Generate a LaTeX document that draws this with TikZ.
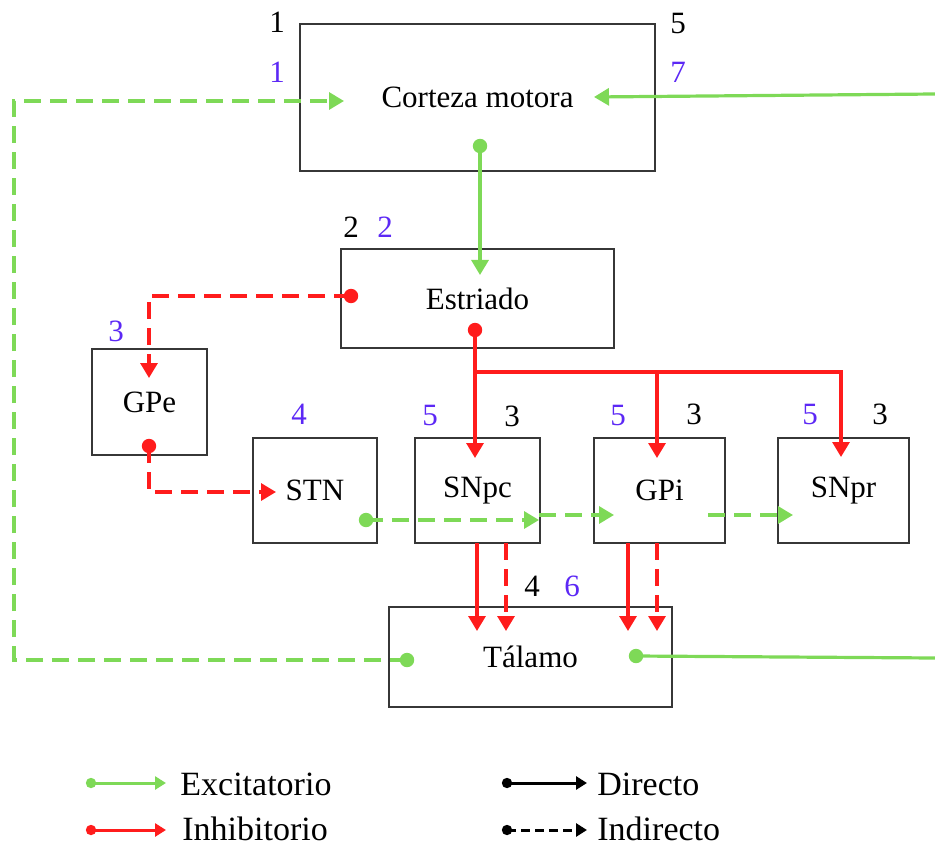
\documentclass[tikz,border=0pt]{standalone}
\usepackage{fontspec}
\setmainfont{Liberation Serif}
\usetikzlibrary{arrows.meta}
\definecolor{exc}{RGB}{126,217,87}
\definecolor{inh}{RGB}{255,28,28}
\definecolor{num}{RGB}{92,40,245}
\definecolor{boxc}{RGB}{55,55,55}
\begin{document}
\begin{tikzpicture}[x=0.5pt,y=-0.5pt,
  box/.style={draw=boxc, line width=0.75pt, inner sep=0pt, align=center,
    font=\fontsize{15.5}{18}\selectfont},
  numk/.style={inner sep=0pt, font=\fontsize{15.5}{18}\selectfont, text=black},
  nump/.style={inner sep=0pt, font=\fontsize{15.5}{18}\selectfont, text=num},
  conn/.style={line width=1.6pt},
  dsh/.style={dash pattern=on 8.5pt off 4.5pt},
  onlytip/.style={arrows={-Triangle[length=7.5pt,width=8.5pt]}},
  legline/.style={line width=1.5pt, arrows={-Triangle[length=5.5pt,width=6.5pt]}},
  legtext/.style={anchor=base west, inner sep=0pt, text depth=0pt, font=\fontsize{17}{20}\selectfont}
]
\useasboundingbox (0,0) rectangle (935,844);

% boxes
\node[box, minimum width=177.5pt, minimum height=73.5pt] (cortex) at (477.5,97.5) {Corteza motora};
\node[box, minimum width=136.5pt, minimum height=49.5pt] (estr) at (477.5,298.5) {Estriado};
\node[box, minimum width=57.5pt, minimum height=53pt] (gpe) at (149.5,402) {GPe};
\node[box, minimum width=62pt, minimum height=52.5pt] (stn) at (315,490.5) {STN};
\node[box, minimum width=62.5pt, minimum height=52.5pt] (snpc) at (477.5,490.5) {SNpc};
\node[box, minimum width=65.5pt, minimum height=52.5pt] (gpi) at (659.5,490.5) {GPi};
\node[box, minimum width=65.5pt, minimum height=52.5pt] (snpr) at (843.5,490.5) {SNpr};
\node[box, minimum width=141.5pt, minimum height=50pt] (tal) at (530.5,657) {Tálamo};

% numbers
\node[numk] (n1k) at (277,22) {1};
\node[nump] (n1p) at (277,72) {1};
\node[numk] (n5k) at (678,24) {5};
\node[nump] (n7p) at (678,72) {7};
\node[numk] (n2k) at (351,227) {2};
\node[nump] (n2p) at (385,227) {2};
\node[nump] (n3p) at (116,331) {3};
\node[nump] (n4p) at (299,414) {4};
\node[nump] (nsnpcp) at (430,415) {5};
\node[numk] (nsnpck) at (512,416) {3};
\node[nump] (ngpip) at (618,415) {5};
\node[numk] (ngpik) at (694,414) {3};
\node[nump] (nsnprp) at (810,414) {5};
\node[numk] (nsnprk) at (880,414) {3};
\node[numk] (ntalk) at (532,586) {4};
\node[nump] (ntalp) at (572,586) {6};

% connector points
\coordinate (cxo) at (480,146);
\coordinate (esi) at (480,275);
\coordinate (rin) at (935,94);
\coordinate (cxi) at (594,97);
\coordinate (tao) at (636,656);
\coordinate (rout) at (935,658);
\coordinate (tal2) at (407,660);
\coordinate (cxl) at (344,101);
\coordinate (eso1) at (351,296);
\coordinate (gpei) at (149,378);
\coordinate (gpeo) at (149,446);
\coordinate (stni) at (276,492);
\coordinate (eso2) at (475,330);
\coordinate (snpci) at (475,458);
\coordinate (jn) at (475,372);
\coordinate (gpii) at (657,458);
\coordinate (snpri) at (841,457);
\coordinate (stno) at (366,520);
\coordinate (snpcm) at (539,520);
\coordinate (snpco) at (539,515);
\coordinate (gpim) at (614,515);
\coordinate (gpio) at (708,515);
\coordinate (snprm) at (793,515);
\coordinate (a1) at (477,543); \coordinate (a1t) at (477,631);
\coordinate (a2) at (506,543); \coordinate (a2t) at (506,631);
\coordinate (a3) at (628,543); \coordinate (a3t) at (628,631);
\coordinate (a4) at (657,543); \coordinate (a4t) at (657,631);

% excitatory
\draw[conn, exc, onlytip] (cxo) -- (esi);
\draw[conn, exc, onlytip] (rin) -- (cxi);
\draw[conn, exc] (tao) -- (rout);
\draw[conn, exc, dsh, onlytip] (tal2) -- ++(-393,0) |- (cxl);
\draw[conn, exc, dsh, onlytip] (stno) -- (snpcm);
\draw[conn, exc, dsh, onlytip] (snpco) -- (gpim);
\draw[conn, exc, dsh, onlytip] (gpio) -- (snprm);
\foreach \p in {cxo,tao,tal2,stno} \fill[exc] (\p) circle (3.6pt);

% inhibitory
\draw[conn, inh, dsh, onlytip] (eso1) -| (gpei);
\draw[conn, inh, dsh, onlytip] (gpeo) |- (stni);
\draw[conn, inh, onlytip] (eso2) -- (snpci);
\draw[conn, inh, onlytip] (jn) -| (gpii);
\draw[conn, inh, onlytip] (jn) -| (snpri);
\draw[conn, inh, onlytip] (a1) -- (a1t);
\draw[conn, inh, dsh, onlytip] (a2) -- (a2t);
\draw[conn, inh, onlytip] (a3) -- (a3t);
\draw[conn, inh, dsh, onlytip] (a4) -- (a4t);
\foreach \p in {eso1,gpeo,eso2} \fill[inh] (\p) circle (3.6pt);

% legend
\coordinate (l1a) at (91,783); \coordinate (l1b) at (166,783);
\coordinate (l2a) at (91,830); \coordinate (l2b) at (166,830);
\coordinate (l3a) at (507,783); \coordinate (l3b) at (587,783);
\coordinate (l4a) at (507,830); \coordinate (l4b) at (587,830);
\draw[legline, exc] (l1a) -- (l1b);
\draw[legline, inh] (l2a) -- (l2b);
\draw[legline, black] (l3a) -- (l3b);
\draw[legline, black, dash pattern=on 4.5pt off 2.5pt] (l4a) -- (l4b);
\fill[exc] (l1a) circle (2.6pt);
\fill[inh] (l2a) circle (2.6pt);
\fill[black] (l3a) circle (2.6pt);
\fill[black] (l4a) circle (2.6pt);
\node[legtext] (lexc) at (180,795) {Excitatorio};
\node[legtext] (linh) at (182,840) {Inhibitorio};
\node[legtext] (ldir) at (597,795) {Directo};
\node[legtext] (lind) at (597,840) {Indirecto};
\end{tikzpicture}
\end{document}
